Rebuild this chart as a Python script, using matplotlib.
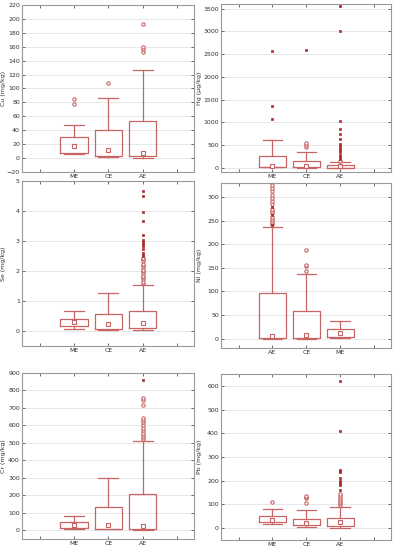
import matplotlib
matplotlib.use("Agg")
import matplotlib.pyplot as plt
import numpy as np

BOX_C = "#c86464"
EXT_C = "#b02a2a"
GRID_C = "#e4e4e4"

# ---------------- data ----------------
# Cu (mg/kg)
cu_groups = ["ME", "CE", "AE"]
cu_med = [18, 11, 8]
cu_q1 = [8, 3, 3]
cu_q3 = [30, 40, 53]
cu_lo = [6, 1, 0]
cu_hi = [47, 86, 127]
cu_out = [[78, 85], [108], [153, 157, 160, 193]]
cu_ext = [[], [], []]

# Hg (ug/kg)
hg_groups = ["ME", "CE", "AE"]
hg_med = [45, 45, 40]
hg_q1 = [15, 10, 5]
hg_q3 = [270, 150, 70]
hg_lo = [10, 5, 0]
hg_hi = [620, 360, 130]
hg_out = [[], [470, 510, 550], [160]]
hg_ext = [[1080, 1360, 2560], [2600],
          [190, 240, 290, 340, 390, 440, 490, 530, 640, 750, 860, 1030, 3000, 3550]]

# Se (mg/kg)
se_groups = ["ME", "CE", "AE"]
se_med = [0.29, 0.23, 0.26]
se_q1 = [0.16, 0.07, 0.10]
se_q3 = [0.41, 0.58, 0.68]
se_lo = [0.08, 0.05, 0.02]
se_hi = [0.68, 1.27, 1.55]
se_out = [[], [], [1.6, 1.65, 1.72, 1.8, 1.85, 1.92, 2.0, 2.05, 2.12, 2.2, 2.25, 2.32, 2.4, 2.45]]
se_ext = [[], [], [2.5, 2.55, 2.6, 2.72, 2.82, 2.9, 2.97, 3.05, 3.2, 3.68, 3.97, 4.5, 4.68]]

# Ni (mg/kg)
ni_groups = ["AE", "CE", "ME"]
ni_med = [6, 8, 12]
ni_q1 = [2, 1, 4]
ni_q3 = [97, 58, 20]
ni_lo = [0, 0, 2]
ni_hi = [237, 138, 38]
ni_out = [[242, 246, 250, 254, 258, 266, 270, 275, 285, 292, 298, 305, 313, 320, 326],
          [143, 153, 156, 187], []]
ni_ext = [[241, 262, 280], [], []]

# Cr (mg/kg)
cr_groups = ["ME", "CE", "AE"]
cr_med = [30, 30, 25]
cr_q1 = [13, 10, 8]
cr_q3 = [50, 135, 210]
cr_lo = [5, 5, 0]
cr_hi = [82, 300, 510]
cr_out = [[], [], [520, 532, 545, 558, 572, 585, 603, 620, 630, 645, 718, 745, 755]]
cr_ext = [[], [], [860]]

# Pb (mg/kg)
pb_groups = ["ME", "CE", "AE"]
pb_med = [35, 20, 25]
pb_q1 = [27, 12, 10]
pb_q3 = [53, 38, 43]
pb_lo = [18, 5, 0]
pb_hi = [80, 75, 90]
pb_out = [[110], [108, 125, 130, 135], [98, 105, 112, 120, 128, 135, 145]]
pb_ext = [[], [], [160, 182, 188, 195, 200, 210, 235, 240, 245, 410, 620]]

panels = [
    dict(groups=cu_groups, med=cu_med, q1=cu_q1, q3=cu_q3, lo=cu_lo, hi=cu_hi, out=cu_out, ext=cu_ext,
         label="Cu (mg/kg)", ylim=(-20, 220), yticks=np.arange(-20, 221, 20)),
    dict(groups=hg_groups, med=hg_med, q1=hg_q1, q3=hg_q3, lo=hg_lo, hi=hg_hi, out=hg_out, ext=hg_ext,
         label="Hg (µg/kg)", ylim=(-90, 3600), yticks=np.arange(0, 3501, 500)),
    dict(groups=se_groups, med=se_med, q1=se_q1, q3=se_q3, lo=se_lo, hi=se_hi, out=se_out, ext=se_ext,
         label="Se (mg/kg)", ylim=(-0.5, 5.0), yticks=np.arange(0, 5.1, 1)),
    dict(groups=ni_groups, med=ni_med, q1=ni_q1, q3=ni_q3, lo=ni_lo, hi=ni_hi, out=ni_out, ext=ni_ext,
         label="Ni (mg/kg)", ylim=(-20, 330), yticks=np.arange(0, 301, 50)),
    dict(groups=cr_groups, med=cr_med, q1=cr_q1, q3=cr_q3, lo=cr_lo, hi=cr_hi, out=cr_out, ext=cr_ext,
         label="Cr (mg/kg)", ylim=(-50, 900), yticks=np.arange(0, 901, 100)),
    dict(groups=pb_groups, med=pb_med, q1=pb_q1, q3=pb_q3, lo=pb_lo, hi=pb_hi, out=pb_out, ext=pb_ext,
         label="Pb (mg/kg)", ylim=(-50, 650), yticks=np.arange(0, 601, 100)),
]

W, H = 396, 550
rects = [
    (22, 5, 194, 172), (221, 4, 391, 172),
    (22, 181, 194, 346), (221, 183, 391, 348),
    (22, 373, 194, 539), (221, 374, 391, 540),
]
ylab_x = [4, 200]

fig = plt.figure(figsize=(W / 100, H / 100), dpi=100)
plt.rcParams['font.family'] = ['DejaVu Sans']

for i, (p, r) in enumerate(zip(panels, rects)):
    l, t, rr, b = r
    ax = fig.add_axes([l / W, 1 - b / H, (rr - l) / W, (b - t) / H])
    pos = [1, 2, 3]
    stats = []
    for k in range(3):
        stats.append(dict(med=p["med"][k], q1=p["q1"][k], q3=p["q3"][k],
                          whislo=p["lo"][k], whishi=p["hi"][k], mean=p["med"][k], fliers=[]))
    ax.bxp(stats, positions=pos, widths=0.8, capwidths=0.58, showmeans=True, showfliers=False,
           boxprops=dict(color=BOX_C, linewidth=0.9),
           whiskerprops=dict(color=BOX_C, linewidth=0.9),
           capprops=dict(color=BOX_C, linewidth=0.9),
           medianprops=dict(visible=False),
           meanprops=dict(marker='s', markersize=3, markerfacecolor='white',
                          markeredgecolor=BOX_C, markeredgewidth=0.8),
           manage_ticks=False, zorder=3)
    for k in range(3):
        if p["out"][k]:
            ax.plot([pos[k]] * len(p["out"][k]), p["out"][k], linestyle='none', marker='o',
                    markersize=2.4, markerfacecolor='white', markeredgecolor=BOX_C,
                    markeredgewidth=0.8, zorder=4)
        if p["ext"][k]:
            ax.plot([pos[k]] * len(p["ext"][k]), p["ext"][k], linestyle='none', marker='s',
                    markersize=2.0, markerfacecolor=EXT_C, markeredgecolor=EXT_C,
                    markeredgewidth=0.5, zorder=4)
    ax.set_xlim(-0.52, 4.5)
    ax.set_ylim(*p["ylim"])
    ax.set_xticks([0, 1, 2, 3, 4])
    ax.set_xticklabels(["", p["groups"][0], p["groups"][1], p["groups"][2], ""])
    ax.set_yticks(p["yticks"])
    ax.yaxis.grid(True, color=GRID_C, linewidth=0.6, zorder=0)
    ax.set_axisbelow(True)
    ax.tick_params(direction='in', length=2, width=0.5, labelsize=4.5, colors='#333333',
                   top=True, right=True, pad=1.5)
    for s in ax.spines.values():
        s.set_color('#999999')
        s.set_linewidth(0.8)
    fig.text(ylab_x[i % 2] / W, 1 - ((t + b) / 2) / H, p["label"], rotation=90,
             ha='center', va='center', fontsize=4.5, color='#333333')

fig.savefig("out.png", dpi=100)
